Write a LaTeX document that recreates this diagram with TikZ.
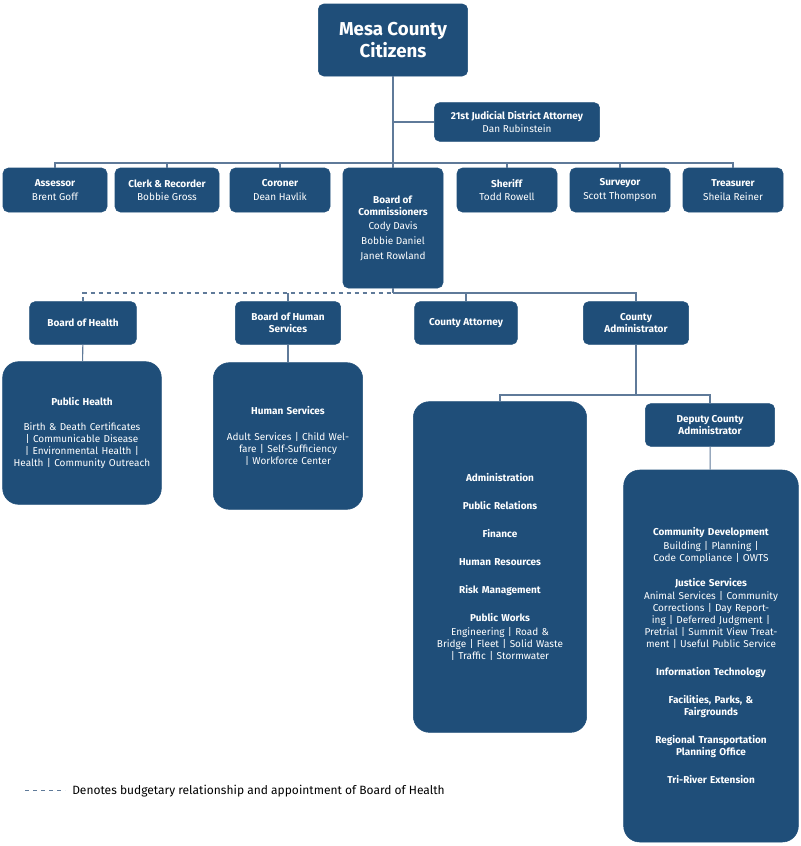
\documentclass[tikz,border=0pt]{standalone}
\usepackage{fontspec}
\setmainfont{Fira Sans}
\usetikzlibrary{positioning}
\definecolor{mesablue}{HTML}{1F4E79}
\definecolor{linegray}{HTML}{5F7A99}
\tikzset{
  box/.style={draw=mesablue, fill=mesablue, text=white, rounded corners=4pt, align=center, inner sep=1pt, font=\fontsize{7.5}{9}\selectfont},
  big/.style={box, rounded corners=12pt},
  link/.style={draw=linegray, line width=0.8pt}
}
\begin{document}
\begin{tikzpicture}[x=0.75pt, y=-0.75pt]
\useasboundingbox (0,0) rectangle (800,846);
% top levels
\node[box, minimum width=112pt, minimum height=54pt, font=\fontsize{14}{16}\selectfont\bfseries] (cit) at (393,40) {Mesa County\\Citizens};
\node[box, minimum width=124pt, minimum height=29pt] (da) at (517,122) {\textbf{21st Judicial District Attorney}\\[1pt]Dan Rubinstein};
\node[box, minimum width=78pt, minimum height=33pt] (ass) at (55,190) {\textbf{Assessor}\\[1pt]Brent Goff};
\node[box, minimum width=78pt, minimum height=33pt] (clk) at (167,190) {\textbf{Clerk \& Recorder}\\[1pt]Bobbie Gross};
\node[box, minimum width=75pt, minimum height=33pt] (cor) at (280,190) {\textbf{Coroner}\\[1pt]Dean Havlik};
\node[box, minimum width=75pt, minimum height=90pt] (boc) at (393,228) {\textbf{Board of}\\\textbf{Commissioners}\\[2pt]Cody Davis\\[2pt]Bobbie Daniel\\[2pt]Janet Rowland};
\node[box, minimum width=75pt, minimum height=33pt] (she) at (507,190) {\textbf{Sheriff}\\[1pt]Todd Rowell};
\node[box, minimum width=75pt, minimum height=33pt] (sur) at (620,190) {\textbf{Surveyor}\\[1pt]Scott Thompson};
\node[box, minimum width=75pt, minimum height=33pt] (tre) at (733,190) {\textbf{Treasurer}\\[1pt]Sheila Reiner};
% second level
\node[box, minimum width=80pt, minimum height=32pt, font=\fontsize{7.5}{9}\selectfont\bfseries] (boh) at (83,323) {Board of Health};
\node[box, minimum width=79pt, minimum height=32pt, font=\fontsize{7.5}{9}\selectfont\bfseries] (bhs) at (288,323) {Board of Human\\Services};
\node[box, minimum width=77pt, minimum height=32pt, font=\fontsize{7.5}{9}\selectfont\bfseries] (att) at (466,323) {County Attorney};
\node[box, minimum width=79pt, minimum height=32pt, font=\fontsize{7.5}{9}\selectfont\bfseries] (adm) at (636,323) {County\\Administrator};
\node[box, minimum width=97pt, minimum height=32pt, font=\fontsize{7.5}{9}\selectfont\bfseries] (dep) at (710,425) {Deputy County\\Administrator};
% departments
\node[big, minimum width=119pt, minimum height=107pt, text width=114pt] (ph) at (82,433) {\textbf{Public Health}\\[10pt]Birth \& Death Certificates | Communicable Disease | Environmental Health | Health | Community Outreach};
\node[big, minimum width=112pt, minimum height=110pt, text width=98pt] (hs) at (288,436) {\textbf{Human Services}\\[10pt]Adult Services | Child Welfare | Self-Sufficiency | Workforce Center};
\node[big, minimum width=130pt, minimum height=248pt, text width=110pt] (ad) at (500,567) {\textbf{Administration}\\[12pt]\textbf{Public Relations}\\[12pt]\textbf{Finance}\\[12pt]\textbf{Human Resources}\\[12pt]\textbf{Risk Management}\\[12pt]\textbf{Public Works}\\[1pt]Engineering | Road \& Bridge | Fleet | Solid Waste | Traffic | Stormwater};
\node[big, minimum width=131pt, minimum height=279pt, text width=118pt] (cd) at (711,656) {\textbf{Community Development}\\[1pt]Building | Planning | Code Compliance | OWTS\\[10pt]\textbf{Justice Services}\\[1pt]Animal Services | Community Corrections | Day Reporting | Deferred Judgment | Pretrial | Summit View Treatment | Useful Public Service\\[12pt]\textbf{Information Technology}\\[12pt]\textbf{Facilities, Parks, \&}\\\textbf{Fairgrounds}\\[12pt]\textbf{Regional Transportation}\\\textbf{Planning Office}\\[12pt]\textbf{Tri-River Extension}};
% connectors
\coordinate (j1) at (393,163);
\coordinate (j2) at (393,293);
\coordinate (j3) at (636,395);
\draw[link] (cit) -- (boc);
\draw[link] (da.west) -- (393,122);
\draw[link] (ass.north) |- (j1) -| (tre.north);
\foreach \n in {clk,cor,she,sur} \draw[link] (\n.north) -- (\n.north |- j1);
\draw[link] (boc) -- (j2);
\draw[link, dashed] (boh.north) |- (j2);
\draw[link] (j2) -| (adm.north);
\draw[link] (bhs.north) -- (bhs.north |- j2);
\draw[link] (att.north) -- (att.north |- j2);
\draw[link] (boh) -- (ph);
\draw[link] (bhs) -- (hs);
\draw[link] (adm) -- (j3);
\draw[link] (ad.north) |- (j3) -| (dep.north);
\draw[link] (dep) -- (cd);
% legend
\coordinate (l1) at (25,790);
\coordinate (l2) at (65,790);
\draw[link, dashed, line width=0.5pt] (l1) -- (l2);
\node[anchor=west, font=\fontsize{9}{11}\selectfont, inner sep=0pt] (leg) at (72,791) {Denotes budgetary relationship and appointment of Board of Health};
\end{tikzpicture}
\end{document}
